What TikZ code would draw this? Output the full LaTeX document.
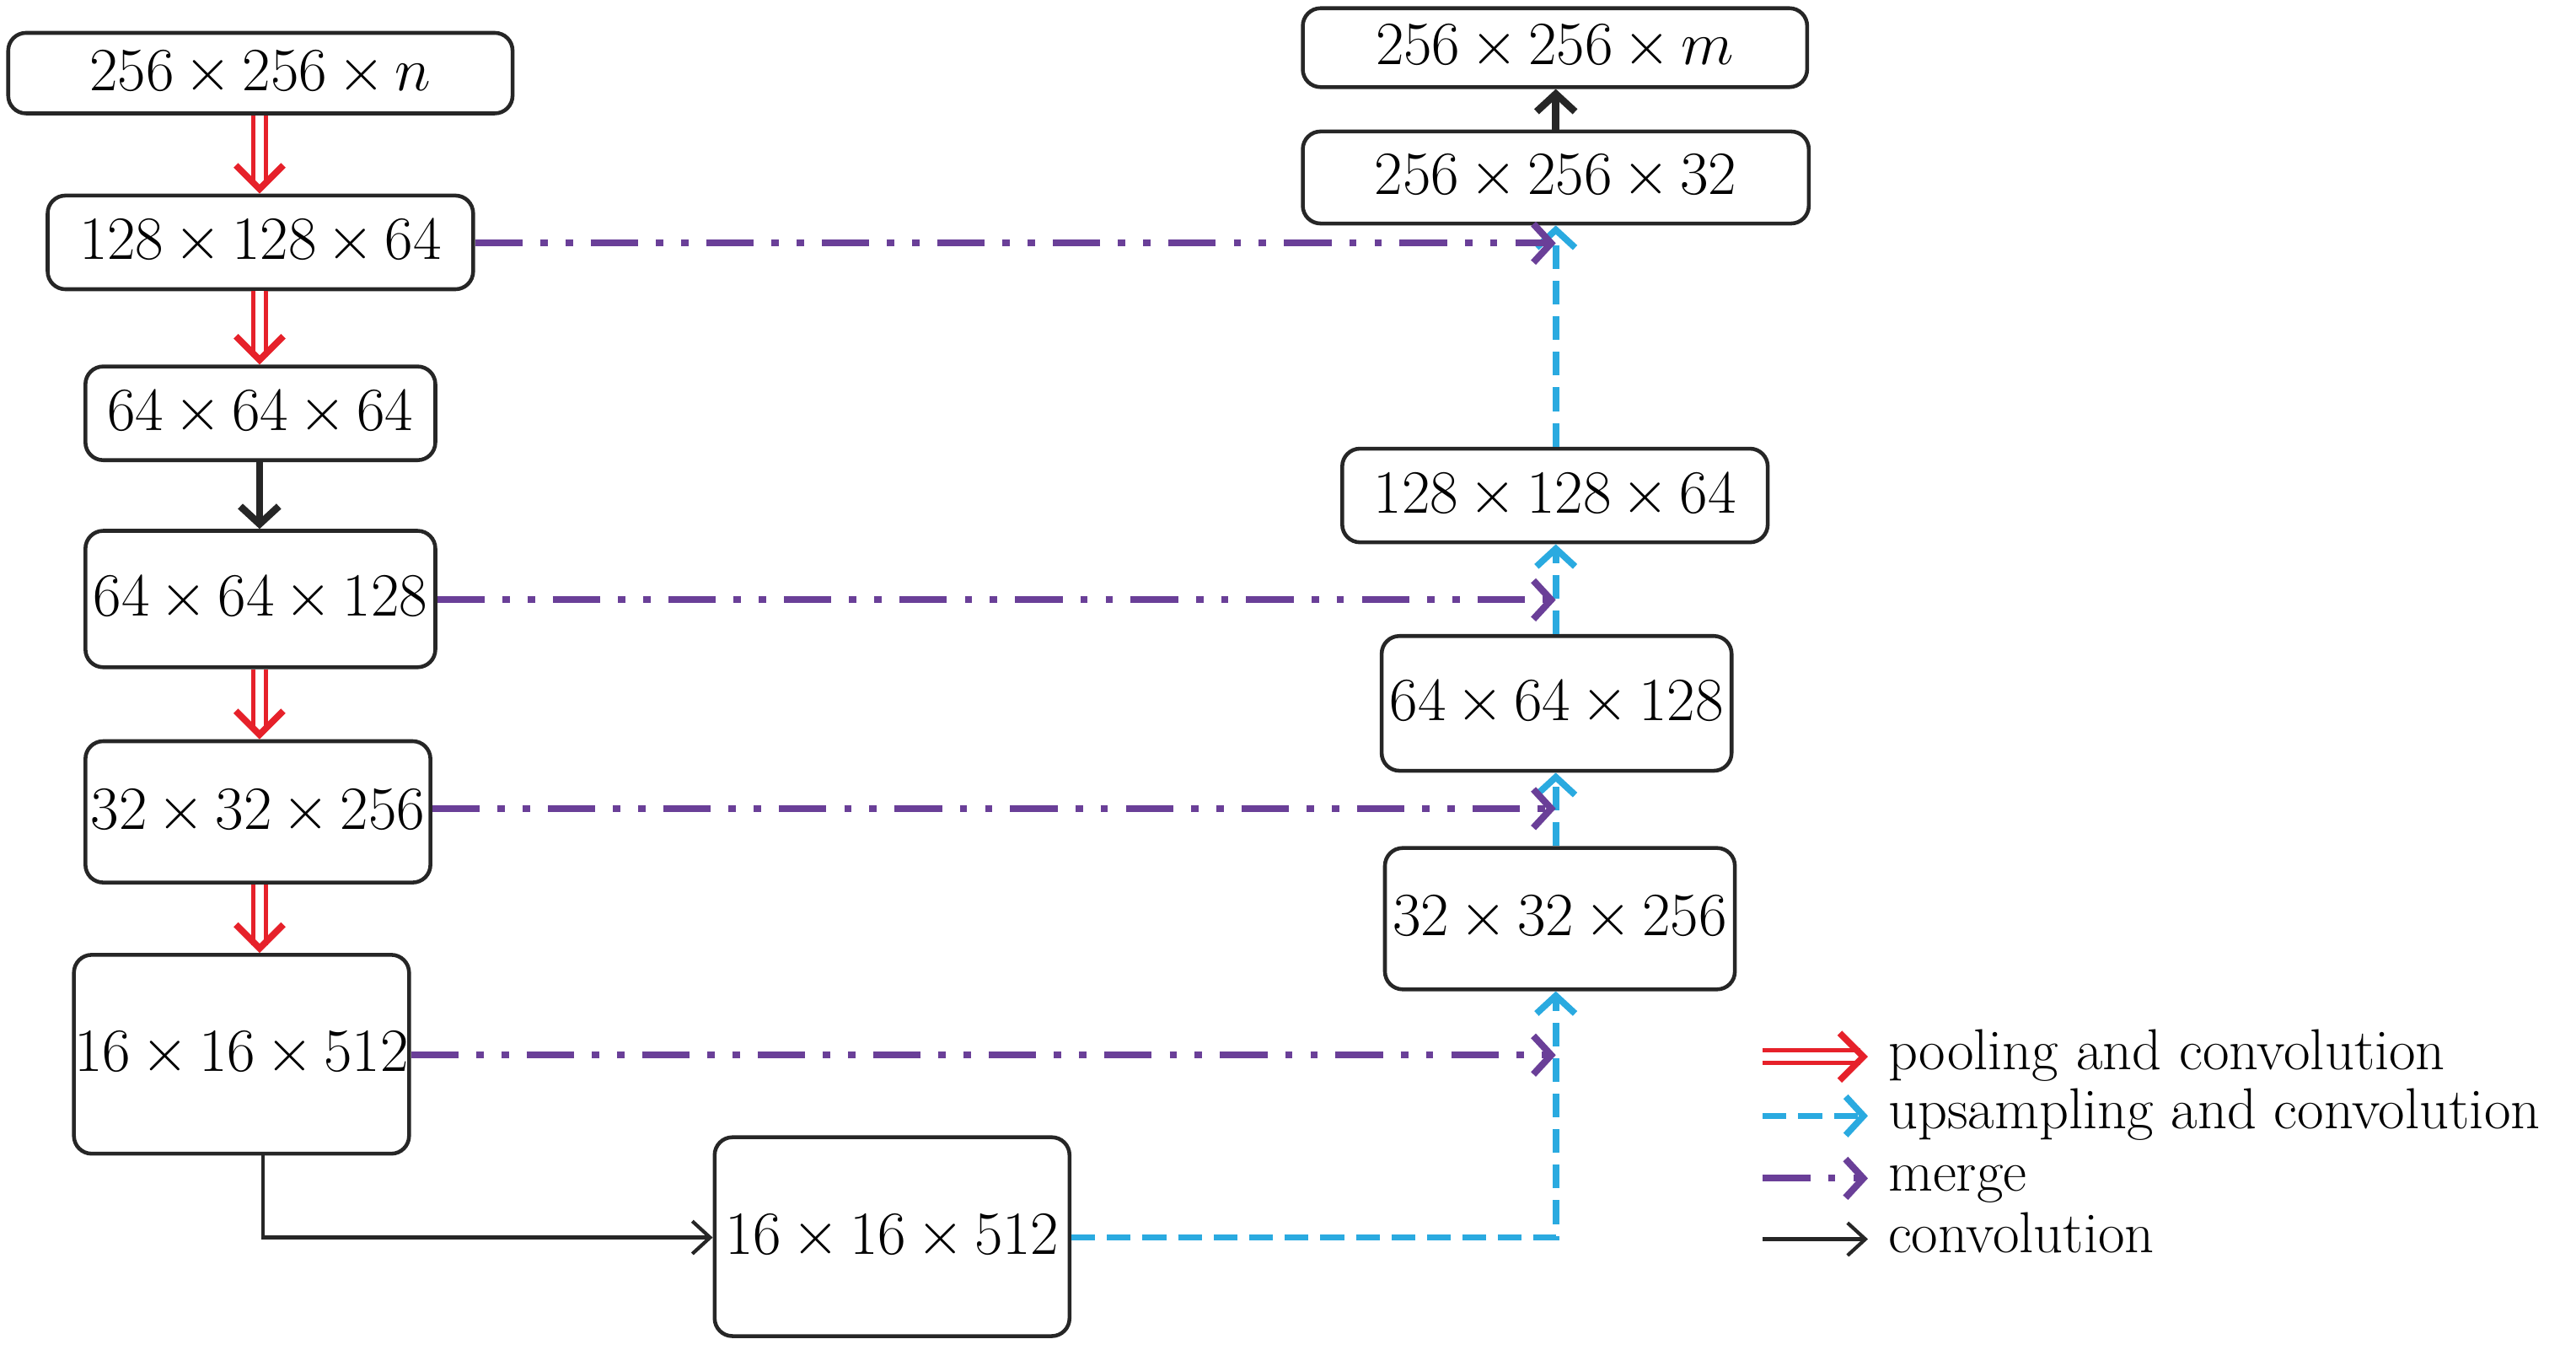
\documentclass[tikz,border=0pt]{standalone}
\usetikzlibrary{arrows.meta}
\definecolor{pur}{HTML}{6A3F98}
\definecolor{blu}{HTML}{2AAAE0}
\definecolor{rd}{HTML}{E6212A}
\begin{document}
\begin{tikzpicture}[x=0.01949cm,y=-0.01949cm,
  box/.style={draw=black!85,line width=1.3pt,rounded corners=6pt,inner sep=0pt,font=\fontsize{21}{24}\selectfont},
  pool/.style={rd,line width=1.3pt,double distance=3pt,-{Straight Barb[length=8pt,width=16pt,line width=2.2pt]}},
  up/.style={blu,line width=2.2pt,dash pattern=on 8pt off 4pt,-{Straight Barb[length=6pt,width=13pt]}},
  mrg/.style={pur,line width=2.3pt,dash pattern=on 16pt off 6pt on 2.5pt off 6pt on 2.5pt off 6pt,-{Straight Barb[length=6pt,width=13pt]}},
  conv/.style={black!85,line width=1.2pt,-{Straight Barb[length=6pt,width=11pt]}},
  convb/.style={black!85,line width=2.4pt,-{Straight Barb[length=6pt,width=13pt]}},
  lbl/.style={anchor=west,font=\fontsize{19.5}{22}\selectfont}]
\useasboundingbox (0,0) rectangle (1568,821);
\def\mk#1#2#3#4#5#6{\node[box,minimum width={(#4-#2)*0.01949cm},minimum height={(#5-#3)*0.01949cm}] (#1) at ({(#2+#4)/2},{(#3+#5)/2}) {$#6$};}
\def\x{\,{\times}\,}
\mk{A}{5}{20}{312}{69}{256\x256\x n}
\mk{B}{29}{119}{288}{176}{128\x128\x64}
\mk{C}{52}{223}{265}{280}{64\x64\x64}
\mk{D}{52}{323}{265}{406}{64\x64\x128}
\mk{E}{52}{451}{262}{537}{32\x32\x256}
\mk{F}{45}{581}{249}{702}{16\x16\x512}
\mk{G}{435}{692}{651}{813}{16\x16\x512}
\mk{H}{843}{516}{1056}{602}{32\x32\x256}
\mk{I}{841}{387}{1054}{469}{64\x64\x128}
\mk{J}{817}{273}{1076}{330}{128\x128\x64}
\mk{K}{793}{80}{1101}{136}{256\x256\x32}
\mk{L}{793}{5}{1100}{53}{256\x256\x m}
\draw[pool] (A.south-|158,0) -- (B.north-|158,0);
\draw[pool] (B.south-|158,0) -- (C.north-|158,0);
\draw[convb] (C.south-|158,0) -- (D.north-|158,0);
\draw[pool] (D.south-|158,0) -- (E.north-|158,0);
\draw[pool] (E.south-|158,0) -- (F.north-|158,0);
\coordinate (fc) at (160,753);
\draw[conv] (F.south-|160,0) -- (fc) -- (G.west|-fc);
\coordinate (gc) at (947,753);
\draw[up] (G.east|-gc) -- (gc) -- (H.south-|947,0);
\draw[up] (H.north-|947,0) -- (I.south-|947,0);
\draw[up] (I.north-|947,0) -- (J.south-|947,0);
\draw[up] (J.north-|947,0) -- (K.south-|947,0);
\draw[convb] (K.north-|947,0) -- (L.south-|947,0);
\coordinate (m1) at (947,148); \coordinate (m2) at (947,365);
\coordinate (m3) at (947,492); \coordinate (m4) at (947,642);
\draw[mrg] (B.east|-m1) -- (m1);
\draw[mrg] (D.east|-m2) -- (m2);
\draw[mrg] (E.east|-m3) -- (m3);
\draw[mrg] (F.east|-m4) -- (m4);
\foreach \n/\y in {1/643,2/679,3/717,4/754}{\coordinate (s\n) at (1073,\y); \coordinate (e\n) at (1137,\y);}
\draw[pool] (s1) -- (e1);
\draw[up] (s2) -- (e2);
\draw[mrg,dash pattern=on 16pt off 6pt on 2.5pt off 6pt] (s3) -- (e3);
\draw[conv] (s4) -- (e4);
\node[lbl] (t1) at (1143,643) {\strut pooling and convolution};
\node[lbl] (t2) at (1143,679) {\strut upsampling and convolution};
\node[lbl] (t3) at (1143,717) {\strut merge};
\node[lbl] (t4) at (1143,754) {\strut convolution};
\end{tikzpicture}
\end{document}
